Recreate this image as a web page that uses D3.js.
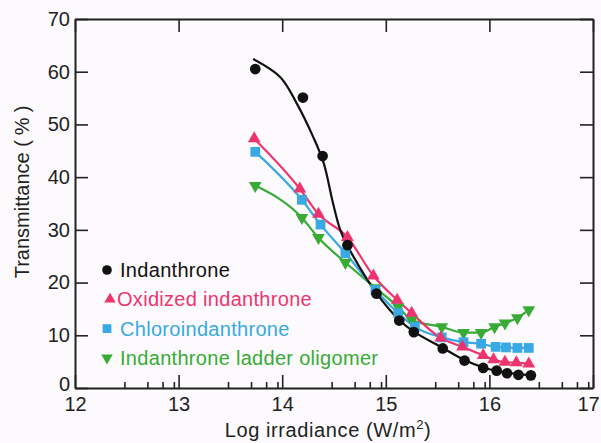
<!DOCTYPE html>
<html>
<head>
<meta charset="utf-8">
<script src="https://cdn.jsdelivr.net/npm/d3@7"></script>
<style>
  body { margin: 0; background: #fcfafc; }
  svg { display: block; font-family: "Liberation Sans", Arial, sans-serif; }
</style>
</head>
<body>
<svg id="chart"></svg>
<script>
// values
const xTicks = [12, 13, 14, 15, 16, 17];
const yTicks = [0, 10, 20, 30, 40, 50, 60, 70];
const minorSteps = [3, 5, 7, 9]; // minor ticks at log10(n) inside each decade

const indanthrone = [
  [13.74, 60.5], [14.2, 55.1], [14.39, 44.0], [14.63, 27.1], [14.91, 17.9],
  [15.13, 12.8], [15.27, 10.6], [15.55, 7.5], [15.76, 5.2], [15.94, 3.8],
  [16.07, 3.3], [16.17, 2.8], [16.28, 2.5], [16.4, 2.4]
];
// fitted curve drawn through the indanthrone points
const indanthroneFit = [
  [13.72, 62.4], [13.98, 59.0], [14.14, 54.0], [14.3, 47.6], [14.4, 42.7],
  [14.49, 35.1], [14.56, 30.0], [14.63, 27.0], [14.91, 18.0], [15.13, 12.9],
  [15.27, 10.7], [15.55, 7.6], [15.76, 5.3], [15.94, 3.9], [16.17, 2.9], [16.4, 2.4]
];
const oxidized = [
  [13.73, 47.3], [14.17, 37.8], [14.35, 33.0], [14.63, 28.6], [14.88, 21.3],
  [15.11, 16.7], [15.25, 14.2], [15.53, 9.5], [15.74, 7.8], [15.94, 6.2],
  [16.04, 5.4], [16.15, 4.9], [16.26, 4.8], [16.38, 4.6]
];
const chloro = [
  [13.74, 44.8], [14.19, 35.7], [14.37, 31.0], [14.61, 25.6], [14.9, 18.6],
  [15.12, 14.2], [15.28, 11.6], [15.54, 9.6], [15.75, 8.7], [15.92, 8.4],
  [16.06, 7.8], [16.16, 7.7], [16.27, 7.6], [16.38, 7.6]
];
const ladder = [
  [13.74, 38.4], [14.19, 32.3], [14.35, 28.5], [14.61, 23.8], [14.9, 19.0],
  [15.12, 15.4], [15.25, 12.9], [15.54, 11.6], [15.75, 10.5], [15.92, 10.5],
  [16.05, 11.6], [16.15, 12.3], [16.27, 13.3], [16.38, 14.8]
];

const seriesNames = ["Indanthrone", "Oxidized indanthrone", "Chloroindanthrone", "Indanthrone ladder oligomer"];
const seriesColors = ["#111111", "#ec356f", "#38a9e2", "#38aa36"];

const width = 601, height = 443;
const svg = d3.select("#chart").attr("width", width).attr("height", height);
svg.append("rect").attr("width", width).attr("height", height).attr("fill", "#fcfafc");

const x = d3.scaleLinear().domain([12, 17]).range([75, 593]);
const y = d3.scaleLinear().domain([0, 70]).range([388, 19]);

const minorTicks = [];
xTicks.slice(0, -1).forEach(t => minorSteps.forEach(n => minorTicks.push(t + Math.log10(n))));

// axes
const styleAxis = g => {
  g.selectAll("path.domain").attr("stroke", "#222").attr("stroke-width", 2);
  g.selectAll(".tick line").attr("stroke", "#222").attr("stroke-width", 1.6);
  g.selectAll(".tick text").attr("fill", "#222").style("font-size", "20px");
};

const xAxisG = svg.append("g")
  .attr("transform", `translate(0,${y(0)})`)
  .call(d3.axisBottom(x).tickValues(xTicks).tickFormat(d3.format("d"))
    .tickSizeInner(-13).tickSizeOuter(0).tickPadding(9))
  .call(styleAxis);
// last label sits a little inside the frame edge, like the original
xAxisG.selectAll(".tick text").filter(d => d === 17).attr("dx", -5);

svg.append("g")
  .attr("transform", `translate(0,${y(0)})`)
  .call(d3.axisBottom(x).tickValues(minorTicks).tickSizeInner(-6).tickSizeOuter(0).tickFormat(""))
  .call(styleAxis)
  .select("path.domain").remove();

svg.append("g")
  .attr("transform", `translate(0,${y(70)})`)
  .call(d3.axisTop(x).tickValues(xTicks).tickSizeInner(-13).tickSizeOuter(0).tickFormat(""))
  .call(styleAxis);

const yAxisG = svg.append("g")
  .attr("transform", `translate(${x(12)},0)`)
  .call(d3.axisLeft(y).tickValues(yTicks).tickFormat(d3.format("d"))
    .tickSizeInner(-13).tickSizeOuter(0).tickPadding(5))
  .call(styleAxis);
yAxisG.selectAll(".tick text").filter(d => d === 0).attr("dy", "0.1em");

svg.append("g")
  .attr("transform", `translate(${x(17)},0)`)
  .call(d3.axisRight(y).tickValues(yTicks).tickSizeInner(-13).tickSizeOuter(0).tickFormat(""))
  .call(styleAxis);

// axis titles
const xTitle = svg.append("text")
  .attr("x", 328).attr("y", 437)
  .attr("text-anchor", "middle")
  .attr("fill", "#222")
  .style("font-size", "20px")
  .style("letter-spacing", "0.6px");
xTitle.append("tspan").text("Log irradiance (W/m");
xTitle.append("tspan").attr("dy", -8).style("font-size", "13px").text("2");
xTitle.append("tspan").attr("dy", 8).text(")");

const yTitle = svg.append("text")
  .attr("transform", `translate(29,192) rotate(-90)`)
  .attr("text-anchor", "middle")
  .attr("fill", "#222")
  .style("font-size", "20px");
yTitle.append("tspan").text("Transmittance (");
yTitle.append("tspan").attr("dx", 5).text("%");
yTitle.append("tspan").attr("dx", 5).text(")");

// lines
const smooth = d3.line().x(d => x(d[0])).y(d => y(d[1])).curve(d3.curveMonotoneX);
const fitLine = d3.line().x(d => x(d[0])).y(d => y(d[1])).curve(d3.curveCatmullRom);

const lineData = [indanthroneFit, oxidized, chloro, ladder];
[3, 2, 1, 0].forEach(i => {
  svg.append("path")
    .datum(lineData[i])
    .attr("fill", "none")
    .attr("stroke", seriesColors[i])
    .attr("stroke-width", 2.2)
    .attr("d", i === 0 ? fitLine : smooth);
});

// markers
const symbols = [
  d3.symbol().type(d3.symbolCircle).size(90),
  d3.symbol().type(d3.symbolTriangle).size(70),
  d3.symbol().type(d3.symbolSquare).size(95),
  d3.symbol().type(d3.symbolTriangle).size(70)
];
const rotations = [0, 0, 0, 180];
const pointData = [indanthrone, oxidized, chloro, ladder];

[3, 2, 1, 0].forEach(i => {
  svg.append("g")
    .selectAll("path")
    .data(pointData[i])
    .enter()
    .append("path")
    .attr("d", symbols[i])
    .attr("fill", seriesColors[i])
    .attr("transform", d => `translate(${x(d[0])},${y(d[1])}) rotate(${rotations[i]})`);
});

// legend
const legend = svg.append("g");
seriesNames.forEach((name, i) => {
  const cy = 270 + i * 29.3;
  const mx = i === 1 ? 110 : 107;
  legend.append("path")
    .attr("d", symbols[i])
    .attr("fill", seriesColors[i])
    .attr("transform", `translate(${mx},${cy}) rotate(${rotations[i]}) scale(0.9)`);
  legend.append("text")
    .attr("x", i === 1 ? 117 : 120)
    .attr("y", cy + 7)
    .attr("fill", seriesColors[i])
    .style("font-size", "20px")
    .style("letter-spacing", "0.3px")
    .text(name);
});
</script>
</body>
</html>
